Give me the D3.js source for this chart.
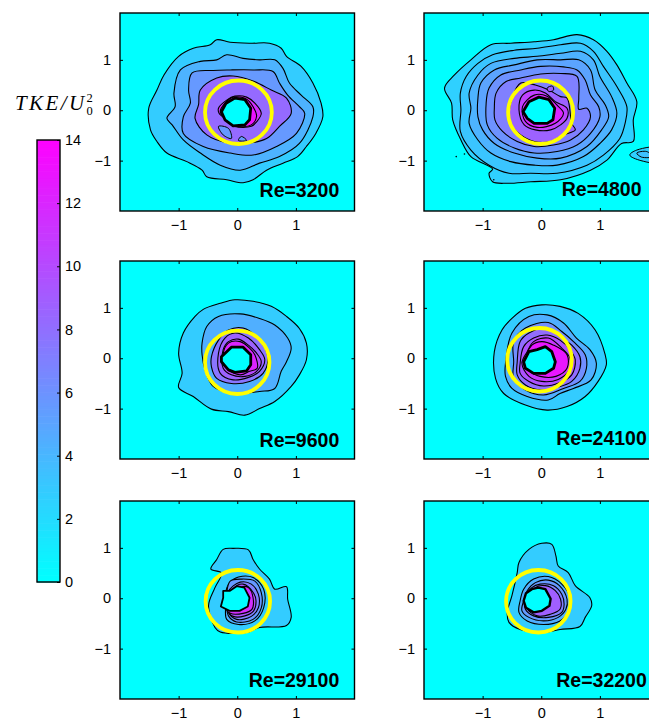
<!DOCTYPE html>
<html>
<head>
<meta charset="utf-8">
<script src="https://cdn.jsdelivr.net/npm/d3@7"></script>
<style>
body { margin: 0; background: #fff; }
text { font-family: "Liberation Sans", Arial, sans-serif; }
</style>
</head>
<body>
<div id="chart"></div>
<script>
// data values, x/y in axis units
var reLabels = ["Re=3200", "Re=4800", "Re=9600", "Re=24100", "Re=29100", "Re=32200"];
var tickValues = [-1, 0, 1];
var barTicks = [0, 2, 4, 6, 8, 10, 12, 14];

// yellow ring per panel: cx, cy, rx, ry
var rings = [
  [0.02, -0.04, 0.57, 0.63],
  [-0.01, -0.04, 0.555, 0.63],
  [0, -0.08, 0.55, 0.63],
  [-0.03, -0.03, 0.55, 0.63],
  [0.01, -0.06, 0.55, 0.62],
  [-0.05, -0.06, 0.55, 0.62]
];

// TKE level of each contour, outermost first
var levels3200 = [2.8, 4.2, 5.6, 8.2, 11.5, 13];
var levels4800 = [2.6, 3.2, 4.2, 5, 6, 7, 8.6, 10.5, 12];
var levels9600 = [2.8, 4.4, 7.6, 8.6, 10, 12];
var levels24100 = [2.8, 4.4, 6.2, 8, 9.5, 11, 12.8];
var levels29100 = [2.8, 4.4, 5.6, 7, 9.5, 11.5];
var levels32200 = [2.8, 4.4, 5.6, 7, 8.8];

var contours3200 = [
  [[-.35,1.40],[-.12,1.35],[.24,1.33],[.55,1.33],[.75,1.23],[.84,1.07],[1.09,.87],[1.29,.54],[1.43,.14],[1.46,-.13],[1.34,-.46],[1.18,-.72],[1.03,-.92],[.78,-1.05],[.50,-1.19],[.27,-1.38],[.10,-1.44],[-.18,-1.38],[-.52,-1.32],[-.60,-1.19],[-.86,-1.02],[-1.20,-.85],[-1.37,-.62],[-1.48,-.39],[-1.51,.04],[-1.37,.40],[-1.25,.70],[-1.00,1.07],[-.75,1.23],[-.46,1.30]],
  [[-.97,.80],[-.63,.97],[-.35,1.0],[-.18,1.10],[.10,1.03],[.38,1.0],[.64,1.0],[.78,.83],[.89,.54],[1.09,.30],[1.29,.07],[1.29,-.13],[1.06,-.66],[.72,-.92],[.38,-1.05],[.05,-1.19],[-.29,-1.09],[-.63,-.85],[-.92,-.59],[-1.11,-.29],[-1.20,-.16],[-1.06,.07],[-1.08,.34]],
  [[-.77,.74],[-.41,.79],[-.12,.80],[.27,.80],[.61,.77],[.72,.54],[.86,.30],[1.06,.07],[1.15,-.06],[1.01,-.46],[.67,-.72],[.27,-.89],[-.12,-.85],[-.58,-.72],[-.92,-.46],[-.92,-.13],[-.80,.14],[-.83,.40]],
  [[-.63,.40],[-.35,.64],[-.07,.68],[.27,.58],[.58,.40],[.84,.24],[.92,-.06],[.72,-.32],[.50,-.56],[.16,-.66],[-.12,-.66],[-.52,-.49],[-.72,-.16],[-.66,.11]],
  [[-.32,.04],[-.18,.20],[-.04,.28],[.16,.26],[.30,.14],[.41,-.06],[.33,-.23],[.24,-.32],[-.04,-.32],[-.18,-.19],[-.31,-.06]],
  [[-.07,.26],[.16,.22],[.27,.07],[.33,-.12],[.24,-.29],[-.04,-.31],[-.21,-.16],[-.29,-.03],[-.21,.14]]
];
var contours4800 = [
  [[-1.65,.44],[-1.48,.70],[-1.20,1.0],[-.86,1.30],[-.52,1.33],[-.12,1.36],[.21,1.40],[.61,1.50],[.89,1.40],[1.12,1.17],[1.29,.90],[1.46,.54],[1.63,.17],[1.57,-.19],[1.57,-.62],[1.37,-.66],[1.12,-.99],[.84,-1.19],[.33,-1.38],[-.18,-1.42],[-.58,-1.45],[-.83,-1.42],[-.89,-1.25],[-.83,-1.17],[-1.20,-.92],[-1.37,-.59],[-1.51,-.19],[-1.53,.14]],
  [[-1.38,.34],[-1.28,.67],[-1.08,.93],[-.83,1.10],[-.46,1.19],[-.07,1.23],[.33,1.30],[.67,1.33],[.89,1.17],[1.06,.87],[1.29,.47],[1.46,.07],[1.43,-.26],[1.34,-.56],[1.06,-.89],[.78,-1.09],[.27,-1.25],[-.18,-1.25],[-.55,-1.25],[-.89,-1.09],[-1.20,-.79],[-1.38,-.42],[-1.37,.01]],
  [[-1.23,.34],[-1.08,.70],[-.86,.93],[-.46,1.03],[-.07,1.07],[.33,1.13],[.67,1.17],[.89,1.0],[1.0,.67],[1.20,.27],[1.29,-.06],[1.20,-.39],[1.0,-.66],[.72,-.92],[.27,-1.09],[-.12,-1.09],[-.52,-1.02],[-.86,-.85],[-1.08,-.59],[-1.23,-.26],[-1.20,.04]],
  [[-1.08,.24],[-1.03,.54],[-.80,.80],[-.46,.90],[-.07,1.0],[.33,1.0],[.64,1.0],[.84,.80],[.92,.40],[1.09,.11],[1.15,-.13],[1.03,-.39],[.78,-.72],[.33,-.95],[-.07,-.95],[-.46,-.85],[-.80,-.66],[-1.0,-.39],[-1.08,-.13]],
  [[-.94,.14],[-.89,.44],[-.69,.70],[-.35,.80],[-.01,.87],[.38,.86],[.61,.80],[.75,.60],[.84,.30],[.98,.07],[1.0,-.13],[.84,-.46],[.61,-.69],[.27,-.82],[-.12,-.85],[-.46,-.75],[-.75,-.56],[-.92,-.29]],
  [[-.80,.04],[-.77,.34],[-.60,.57],[-.35,.64],[-.01,.72],[.33,.73],[.61,.67],[.64,.24],[.64,.02],[.78,.04],[.84,-.13],[.72,-.39],[.50,-.59],[.21,-.69],[-.12,-.72],[-.41,-.62],[-.66,-.42],[-.79,-.19]],
  [[-.55,-.09],[-.49,.27],[-.35,.54],[-.10,.50],[.13,.40],[.33,.27],[.44,.24],[.52,-.26],[.58,-.39],[.38,-.49],[.16,-.62],[-.12,-.62],[-.35,-.49],[-.52,-.29]],
  [[-.38,.01],[-.32,.30],[-.12,.40],[.07,.34],[.24,.17],[.44,.04],[.44,-.16],[.33,-.29],[.16,-.39],[-.10,-.39],[-.29,-.29]],
  [[-.32,.07],[-.12,.30],[.10,.28],[.27,.10],[.38,-.06],[.24,-.26],[-.07,-.34],[-.27,-.22]]
];
var contours9600 = [
  [[-.04,1.16],[.27,1.13],[.58,1.03],[.84,.83],[1.06,.59],[1.18,.30],[1.18,-.03],[1.06,-.33],[.92,-.56],[.64,-.86],[.38,-1.0],[.13,-1.13],[-.15,-1.06],[-.44,-1.01],[-.75,-.76],[-1.0,-.58],[-.94,-.30],[-1.0,.10],[-.92,.50],[-.72,.83],[-.58,.97],[-.29,1.09]],
  [[-.32,.83],[.05,.88],[.38,.79],[.64,.66],[.86,.40],[.92,.20],[.84,-.07],[.75,-.26],[.64,-.60],[.38,-.66],[-.07,-.70],[-.41,-.56],[-.55,-.23],[-.60,.07],[-.60,.30],[-.52,.63]],
  [[-.44,.03],[-.32,.36],[-.15,.56],[.10,.60],[.38,.36],[.52,.03],[.44,-.30],[.21,-.46],[-.10,-.50],[-.35,-.40],[-.44,-.17]],
  [[-.32,.10],[-.21,.40],[-.04,.50],[.19,.40],[.38,.17],[.47,-.03],[.38,-.26],[.19,-.38],[-.07,-.43],[-.29,-.30]],
  [[-.24,.17],[-.15,.33],[.02,.38],[.19,.26],[.33,.10],[.41,-.07],[.33,-.26],[.13,-.36],[-.10,-.33],[-.24,-.20]],
  [[-.15,.30],[.05,.33],[.21,.20],[.30,.07],[.34,-.20],[.21,-.26],[.05,-.33],[-.18,-.20],[-.24,.07]]
];
var contours24100 = [
  [[.01,1.06],[.32,1.03],[.63,.89],[.92,.56],[1.09,.07],[1.11,-.13],[.97,-.46],[.75,-.76],[.44,-.96],[.10,-1.03],[-.27,-.93],[-.64,-.70],[-.78,-.40],[-.80,.13],[-.67,.56],[-.50,.79],[-.27,.99]],
  [[-.61,-.10],[-.50,.50],[-.21,.83],[.10,.86],[.38,.70],[.60,.40],[.83,.17],[.94,-.10],[.85,-.43],[.55,-.60],[.32,-.70],[.12,-.83],[-.24,-.76],[-.50,-.60],[-.61,-.36]],
  [[-.47,-.07],[-.47,.33],[-.27,.60],[.12,.71],[.35,.53],[.55,.33],[.75,.07],[.77,-.20],[.66,-.46],[.38,-.60],[.04,-.73],[-.27,-.63],[-.47,-.40]],
  [[-.41,-.07],[-.36,.33],[-.21,.50],[.10,.60],[.35,.40],[.52,.26],[.66,.03],[.66,-.20],[.52,-.46],[.27,-.58],[.01,-.63],[-.27,-.53],[-.41,-.33]],
  [[-.36,-.10],[-.30,.23],[-.13,.40],[.10,.46],[.32,.36],[.49,.17],[.58,-.03],[.52,-.33],[.32,-.48],[.04,-.55],[-.21,-.46],[-.36,-.30]],
  [[-.33,-.10],[-.24,.13],[-.13,.33],[.12,.40],[.35,.20],[.49,0],[.48,-.23],[.29,-.42],[.01,-.46],[-.21,-.36]],
  [[-.27,-.07],[-.16,.26],[.01,.33],[.21,.26],[.44,.07],[.44,-.20],[.25,-.36],[-.02,-.36],[-.19,-.26]]
];
var contours29100 = [
  [[-.24,.97],[-.07,.99],[.19,.96],[.27,.77],[.38,.58],[.55,.38],[.64,.18],[.84,.23],[.86,-.02],[.92,-.38],[.84,-.54],[.38,-.58],[.16,-.68],[-.29,-.67],[-.38,-.58],[-.49,-.15],[-.38,.21],[-.27,.50],[-.45,.58],[-.35,.77]],
  [[-.2,.10],[-.13,.31],[.02,.42],[.27,.41],[.45,.18],[.45,-.19],[.30,-.45],[.02,-.52],[-.18,-.42],[-.2,-.18]],
  [[-.18,.10],[-.12,.34],[.07,.38],[.30,.34],[.41,.11],[.41,-.19],[.27,-.42],[-.01,-.47],[-.15,-.35],[-.18,-.18]],
  [[-.16,.12],[.05,.32],[.24,.28],[.36,.08],[.36,-.19],[.24,-.36],[-.01,-.42],[-.16,-.26]],
  [[-.07,.18],[.10,.28],[.28,.10],[.32,-.05],[.28,-.25],[.13,-.35],[-.07,-.36],[-.16,-.24]],
  [[.07,.22],[.19,.21],[.27,.01],[.25,-.22],[.10,-.30],[-.12,-.30],[-.18,-.22]]
];
var contours32200 = [
  [[.01,1.09],[.18,1.07],[.25,.84],[.29,.64],[.46,.51],[.58,.25],[.83,.01],[.86,-.15],[.75,-.38],[.66,-.56],[.32,-.62],[.04,-.68],[-.36,-.62],[-.55,-.48],[-.58,-.28],[-.50,.05],[-.41,.51],[-.38,.71],[-.21,.97]],
  [[-.36,-.05],[-.30,.18],[-.13,.38],[.12,.43],[.35,.28],[.49,.01],[.48,-.25],[.32,-.45],[.04,-.52],[-.24,-.45],[-.38,-.28]],
  [[-.30,-.05],[-.24,.15],[-.10,.31],[.12,.36],[.31,.25],[.44,-.02],[.42,-.22],[.29,-.38],[.04,-.45],[-.21,-.38],[-.33,-.25]],
  [[-.27,.01],[-.16,.21],[-.02,.28],[.21,.25],[.35,.08],[.39,-.12],[.35,-.28],[.12,-.38],[-.13,-.35],[-.27,-.22]],
  [[-.10,.21],[.07,.25],[.24,.15],[.33,-.02],[.32,-.22],[.15,-.32],[-.07,-.35],[-.24,-.19]]
];

// central empty region of each panel
var holes = [
  [[-.04,.24],[.13,.21],[.23,.04],[.21,-.19],[.13,-.29],[-.07,-.31],[-.21,-.19],[-.27,-.03],[-.19,.14]],
  [[-.21,.17],[-.04,.26],[.13,.21],[.23,.04],[.20,-.19],[.10,-.26],[-.12,-.26],[-.24,-.16],[-.31,-.03]],
  [[-.18,.13],[-.10,.22],[.10,.22],[.23,.07],[.23,-.13],[.16,-.25],[-.04,-.28],[-.15,-.23],[-.27,-.07],[-.27,.03]],
  [[-.30,-.07],[-.21,.13],[-.07,.17],[.07,.23],[.18,.13],[.24,-.07],[.21,-.20],[.07,-.30],[-.13,-.30],[-.27,-.20]],
  [[-.24,.145],[-.13,.145],[-.01,.24],[.12,.21],[.21,.01],[.18,-.165],[.04,-.25],[-.13,-.25],[-.28,-.165],[-.24,.01]],
  [[-.26,.10],[-.16,.18],[-.05,.21],[.07,.18],[.16,-.01],[.14,-.15],[.01,-.25],[-.13,-.28],[-.26,-.19],[-.30,-.05]]
];

// small islands: panel index, level, points
var islands = [
  [0, 5.6, [[-.32,-.32],[-.15,-.36],[-.10,-.56],[-.24,-.49]]],
  [0, 5.6, [[.02,-.60],[.07,-.52],[.16,-.60]]],
  [1, 2.6, [[1.51,-.89],[1.63,-.79],[2.05,-.75],[2.05,-1.03],[1.7,-1.0]]],
  [1, 3.4, [[1.63,-.85],[1.80,-.82],[1.9,-.92],[1.71,-.93]]],
  [1, 8.6, [[.10,.44],[.19,.48],[.21,.40],[.13,.37]]]
];
var specks4800 = [[-1.45,-.92],[-1.31,-.87],[-.81,-1.38]];

var labelX = [1.74, 1.71, 1.74, 1.80, 1.74, 1.80];
var labelY = [-1.72, -1.70, -1.76, -1.72, -1.76, -1.76];
var holeStroke = [2.8, 2.8, 2.8, 2.8, 1.8, 2.4];

var allContours = [contours3200, contours4800, contours9600, contours24100, contours29100, contours32200];
var allLevels = [levels3200, levels4800, levels9600, levels24100, levels29100, levels32200];

var width = 649, height = 727;
var colLeft = [120, 424];
var rowTop = [13, 261, 501];
var pw = 234.5, ph = 198;

var svg = d3.select('#chart').append('svg').attr('width', width).attr('height', height)
  .style('display', 'block');

var color = d3.scaleLinear().domain([0, 14]).range(['#00ffff', '#ff00ff']);
var smoothCurve = d3.curveCatmullRomClosed.alpha(0.5);

allContours.forEach(function(contours, i) {
  var col = i % 2, row = Math.floor(i / 2);
  var x = d3.scaleLinear().domain([-2, 2]).range([0, pw]);
  var y = d3.scaleLinear().domain([-2, 1.93]).range([ph, 0]);
  var line = d3.line().x(d => x(d[0])).y(d => y(d[1])).curve(smoothCurve);
  var rough = d3.line().x(d => x(d[0])).y(d => y(d[1])).curve(d3.curveLinearClosed);

  var g = svg.append('g').attr('transform', 'translate(' + colLeft[col] + ',' + rowTop[row] + ')');
  g.append('clipPath').attr('id', 'clip' + i).append('rect').attr('width', pw).attr('height', ph);
  g.append('rect').attr('width', pw).attr('height', ph).attr('fill', '#00ffff');

  var plot = g.append('g').attr('clip-path', 'url(#clip' + i + ')');
  var lv = allLevels[i];
  plot.selectAll('path.band').data(contours).join('path')
    .attr('class', 'band')
    .attr('d', d => line(d))
    .attr('fill', (d, j) => color(lv[j]))
    .attr('stroke', '#000')
    .attr('stroke-width', 1.1);

  plot.selectAll('path.island').data(islands.filter(d => d[0] == i)).join('path')
    .attr('class', 'island')
    .attr('d', d => line(d[2]))
    .attr('fill', d => color(d[1]))
    .attr('stroke', '#000')
    .attr('stroke-width', 1);

  if (i == 1) {
    plot.selectAll('circle.speck').data(specks4800).join('circle')
      .attr('class', 'speck')
      .attr('cx', d => x(d[0])).attr('cy', d => y(d[1])).attr('r', 0.8).attr('fill', '#000');
  }

  plot.append('path').attr('d', rough(holes[i]))
    .attr('fill', '#00ffff').attr('stroke', '#000')
    .attr('stroke-width', holeStroke[i]).attr('stroke-linejoin', 'round');

  var r = rings[i];
  plot.append('ellipse')
    .attr('cx', x(r[0])).attr('cy', y(r[1]))
    .attr('rx', x(r[2]) - x(0)).attr('ry', y(0) - y(r[3]))
    .attr('fill', 'none').attr('stroke', '#ffff00').attr('stroke-width', 3.8);

  g.append('text').text(reLabels[i])
    .attr('x', x(labelX[i])).attr('y', y(labelY[i]))
    .attr('text-anchor', 'end').attr('font-weight', 'bold').attr('font-size', 19.5).attr('fill', '#000');

  // axes on all four sides, short ticks pointing in
  var noLabel = function() { return ''; };
  var tickFmt = d3.format('d');
  var axes = [
    d3.axisBottom(x).tickValues(tickValues).tickFormat(tickFmt).tickSizeInner(-3).tickSizeOuter(0).tickPadding(9),
    d3.axisLeft(y).tickValues(tickValues).tickFormat(tickFmt).tickSizeInner(-3).tickSizeOuter(0).tickPadding(9),
    d3.axisTop(x).tickValues(tickValues).tickSizeInner(-3).tickSizeOuter(0).tickFormat(noLabel),
    d3.axisRight(y).tickValues(tickValues).tickSizeInner(-3).tickSizeOuter(0).tickFormat(noLabel)
  ];
  var shifts = [[0, ph], [0, 0], [0, 0], [pw, 0]];
  axes.forEach(function(a, k) {
    var ag = g.append('g').attr('transform', 'translate(' + shifts[k][0] + ',' + shifts[k][1] + ')').call(a);
    ag.selectAll('.domain').remove();
    ag.selectAll('text').attr('font-size', 14.5).attr('fill', '#000')
      .style('font-family', '"Liberation Sans", Arial, sans-serif');
  });
  g.append('rect').attr('width', pw).attr('height', ph)
    .attr('fill', 'none').attr('stroke', '#000').attr('stroke-width', 1.4);
});

// colour bar
var barX = 37, barW = 23, barTop = 140, barBottom = 582;
var barY = d3.scaleLinear().domain([0, 14]).range([barBottom, barTop]);
var steps = d3.range(0, 14, 14 / 128);
svg.append('g').selectAll('rect').data(steps).join('rect')
  .attr('x', barX).attr('width', barW)
  .attr('y', d => barY(d + 14 / 128))
  .attr('height', d => barY(d) - barY(d + 14 / 128) + 0.6)
  .attr('fill', d => color(d));
var barAxis = svg.append('g').attr('transform', 'translate(' + (barX + barW) + ',0)')
  .call(d3.axisRight(barY).tickValues(barTicks).tickSizeInner(-3).tickSizeOuter(0).tickPadding(5));
barAxis.selectAll('.domain').remove();
barAxis.selectAll('text').attr('font-size', 14.5).attr('fill', '#000')
  .style('font-family', '"Liberation Sans", Arial, sans-serif');
svg.append('rect').attr('x', barX).attr('y', barTop).attr('width', barW).attr('height', barBottom - barTop)
  .attr('fill', 'none').attr('stroke', '#000').attr('stroke-width', 1.4);

// bar title
var title = svg.append('text').attr('x', 15).attr('y', 110)
  .style('font-family', '"Liberation Serif", serif').attr('font-size', 21).attr('fill', '#000');
title.append('tspan').attr('font-style', 'italic').attr('letter-spacing', 2.4).text('TKE/U');
title.append('tspan').attr('font-size', 12.5).attr('dy', 5).text('0');
title.append('tspan').attr('font-size', 12.5).attr('dy', -13).attr('dx', -6.3).text('2');
</script>
</body>
</html>
